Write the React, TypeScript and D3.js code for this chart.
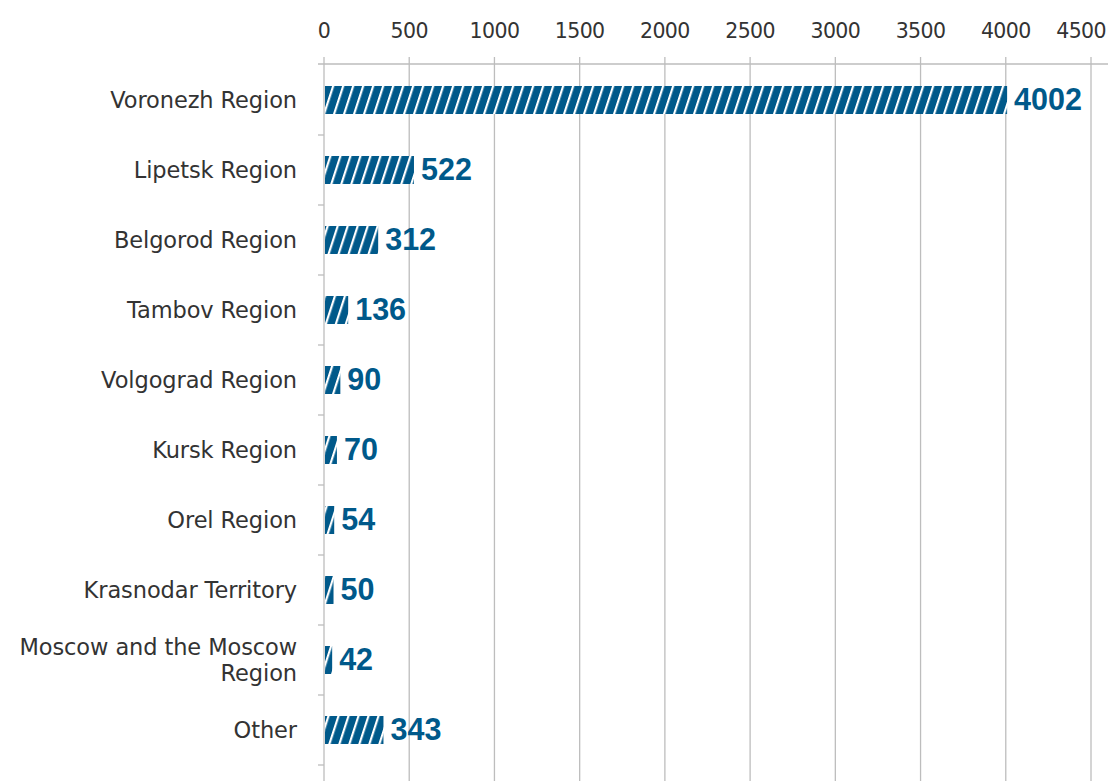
import React from "react";
import * as d3 from "d3";

const regions = [
  "Voronezh Region",
  "Lipetsk Region",
  "Belgorod Region",
  "Tambov Region",
  "Volgograd Region",
  "Kursk Region",
  "Orel Region",
  "Krasnodar Territory",
  "Moscow and the Moscow Region",
  "Other",
];
const counts = [4002, 522, 312, 136, 90, 70, 54, 50, 42, 343];
const xTicks = [0, 500, 1000, 1500, 2000, 2500, 3000, 3500, 4000, 4500];

// label wrapping as in the original
const labelLines: Record<string, string[]> = {
  "Moscow and the Moscow Region": ["Moscow and the Moscow", "Region"],
};

const W = 1108;
const H = 781;
const BLUE = "#00598a";
const GRID = "#bdbdbd";

export default function App() {
  const x = d3.scaleLinear().domain([0, 4500]).range([324, 1091]);
  const y = d3.scaleBand().domain(regions).range([65, 765]).paddingInner(0.6).paddingOuter(0.3);
  const step = y.step();
  const axisTop = 64;
  const labelFont = "'DejaVu Sans', sans-serif";

  return (
    <div style={{ position: "absolute", left: 0, top: 0 }}>
      <svg width={W} height={H} style={{ display: "block", background: "#fff" }}>
        <defs>
          <pattern
            id="hatch"
            patternUnits="userSpaceOnUse"
            width={10}
            height={10}
            patternTransform="skewX(-18)"
          >
            <rect width={10} height={10} fill={BLUE} />
            <rect x={0} width={2.3} height={10} fill="#fff" />
          </pattern>
        </defs>

        {/* vertical gridlines */}
        {xTicks.map((t) => (
          <line key={"g" + t} x1={x(t)} x2={x(t)} y1={57} y2={H} stroke={GRID} strokeWidth={1.3} />
        ))}
        <line x1={318} x2={W} y1={axisTop} y2={axisTop} stroke={GRID} strokeWidth={1.3} />

        {/* tick labels; the last one is pulled in to stay inside the frame */}
        {xTicks.map((t, i) => {
          const last = i === xTicks.length - 1;
          return (
            <text
              key={"t" + t}
              x={last ? W - 2 : x(t)}
              y={38}
              textAnchor={last ? "end" : "middle"}
              fontFamily={labelFont}
              fontSize={20.5}
              letterSpacing={-0.6}
              fill="#333"
            >
              {t}
            </text>
          );
        })}

        {/* category ticks on the left axis */}
        {regions.map((r, i) => (
          <line
            key={"ct" + r}
            x1={318}
            x2={324}
            y1={65 + step * (i + 1)}
            y2={65 + step * (i + 1)}
            stroke={GRID}
            strokeWidth={1.3}
          />
        ))}

        {/* bars */}
        {regions.map((r, i) => (
          <rect
            key={"b" + r}
            x={x(0) + 1}
            y={y(r)!}
            width={x(counts[i]) - x(0)}
            height={y.bandwidth()}
            fill="url(#hatch)"
          />
        ))}

        {/* value labels */}
        {regions.map((r, i) => (
          <text
            key={"v" + r}
            x={x(counts[i]) + 8}
            y={y(r)! + y.bandwidth() / 2 + 9.5}
            fontFamily="'Liberation Sans', Arial, sans-serif"
            fontWeight="bold"
            fontSize={30.5}
            fill={BLUE}
          >
            {counts[i]}
          </text>
        ))}

        {/* category labels */}
        {regions.map((r) => {
          const lines = labelLines[r] || [r];
          const cy = y(r)! + y.bandwidth() / 2;
          const lh = 26;
          const y0 = cy - ((lines.length - 1) * lh) / 2 + 6.5;
          return (
            <text
              key={"l" + r}
              textAnchor="end"
              fontFamily={labelFont}
              fontSize={22.5}
              letterSpacing={-0.1}
              fill="#333"
            >
              {lines.map((ln, k) => (
                <tspan key={k} x={297} y={y0 + k * lh + 1}>
                  {ln}
                </tspan>
              ))}
            </text>
          );
        })}
      </svg>
    </div>
  );
}
